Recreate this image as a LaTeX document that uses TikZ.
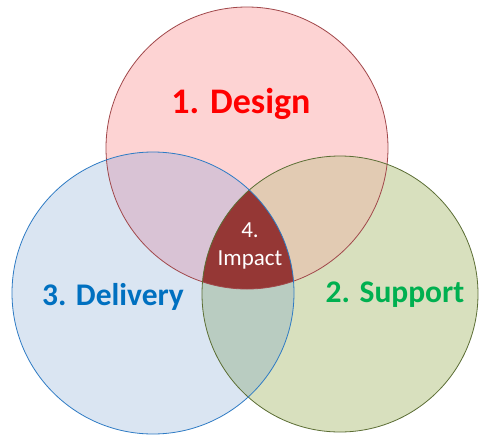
\documentclass[tikz,border=0pt]{standalone}
\usepackage{fontspec}
\setmainfont{Carlito}
\definecolor{redfill}{HTML}{FDD3D3}
\definecolor{bluefill}{HTML}{DAE5F2}
\definecolor{greenfill}{HTML}{D8E0BE}
\definecolor{rbfill}{HTML}{D9C3D5}
\definecolor{rgfill}{HTML}{E2CBB3}
\definecolor{bgfill}{HTML}{B9CCC1}
\definecolor{impactfill}{HTML}{953735}
\definecolor{redline}{HTML}{A0474A}
\definecolor{blueline}{HTML}{2E7BC4}
\definecolor{greenline}{HTML}{5C6E35}
\definecolor{designred}{HTML}{FF0000}
\definecolor{deliveryblue}{HTML}{0070C0}
\definecolor{supportgreen}{HTML}{00B050}
\tikzset{
  outline/.style={line width=0.8pt},
  biglabel/.style={font=\bfseries\fontsize{31.5}{36}\selectfont, anchor=base, inner sep=0pt},
}
\begin{document}
\begin{tikzpicture}[x=1pt,y=-1pt]
\useasboundingbox (0,0) rectangle (480,437);
\coordinate (cr) at (247,148);
\coordinate (cb) at (153,293);
\coordinate (cg) at (340,294);
% single fills
\fill[redfill] (cr) circle[radius=141pt];
\fill[bluefill] (cb) circle[radius=141pt];
\fill[greenfill] (cg) circle[radius=138pt];
% pairwise overlaps
\begin{scope}
  \clip (cr) circle[radius=141pt];
  \fill[rbfill] (cb) circle[radius=141pt];
  \fill[rgfill] (cg) circle[radius=138pt];
\end{scope}
\begin{scope}
  \clip (cb) circle[radius=141pt];
  \fill[bgfill] (cg) circle[radius=138pt];
  \clip (cr) circle[radius=141pt];
  \fill[impactfill] (cg) circle[radius=138pt];
\end{scope}
% outlines
\draw[outline, redline] (cr) circle[radius=141pt];
\draw[outline, greenline] (cg) circle[radius=138pt];
\draw[outline, blueline] (cb) circle[radius=141pt];
% labels
\node[biglabel, text=designred, font=\bfseries\fontsize{36}{40}\selectfont] (design) at (241,113) {1. Design};
\node[biglabel, text=deliveryblue] (delivery) at (113,305) {3. Delivery};
\node[biglabel, text=supportgreen] (support) at (395,302) {2. Support};
\node[text=white, font=\fontsize{23}{28}\selectfont, align=center, inner sep=0pt] (impact) at (250,246) {4.\\Impact};
\end{tikzpicture}
\end{document}
